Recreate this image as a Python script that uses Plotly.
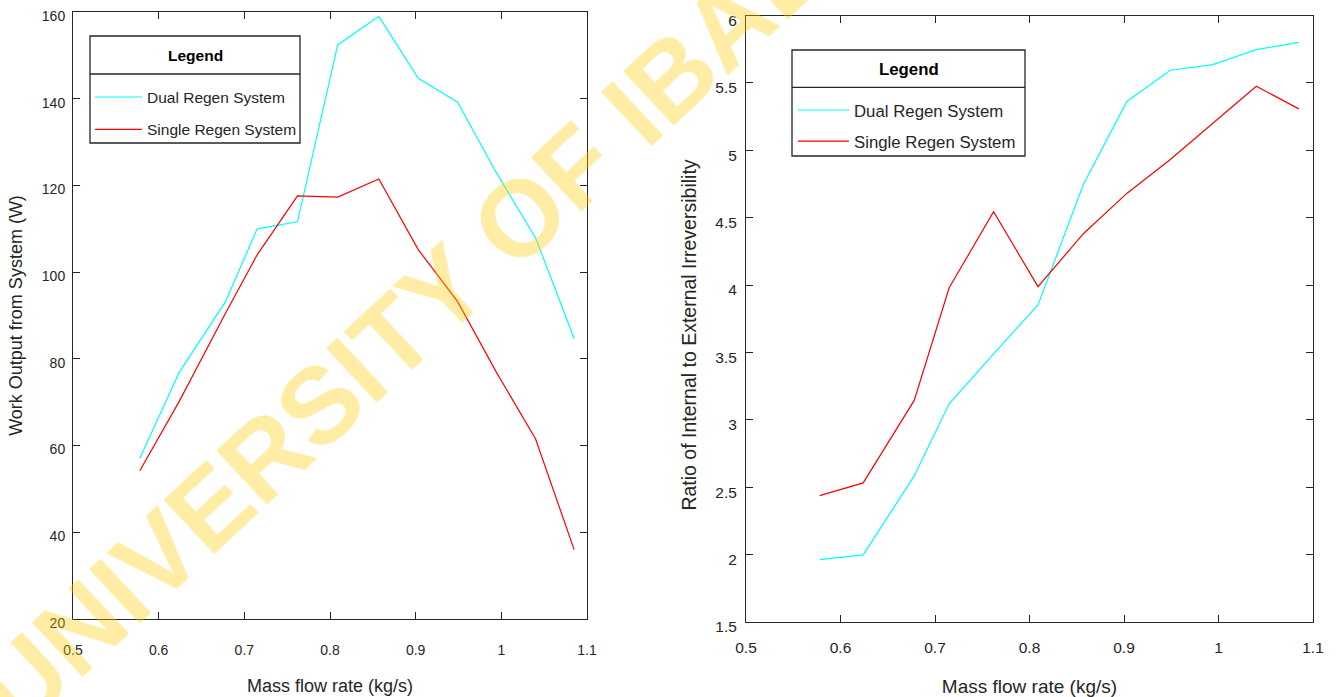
import plotly.graph_objects as go

# Mass flow rate samples (kg/s)
mass_flow = [0.578, 0.624, 0.678, 0.715, 0.762, 0.809, 0.857, 0.903, 0.949, 0.994, 1.040, 1.085]

# Work output from the system (W)
work_dual = [57.1, 76.9, 93.2, 110.0, 111.6, 152.4, 159.0, 144.7, 139.2, 123.0, 107.9, 84.7]
work_single = [54.2, 70.2, 90.5, 104.0, 117.6, 117.3, 121.5, 105.2, 93.2, 77.0, 61.5, 36.0]

# Ratio of internal to external irreversibility
ratio_dual = [1.963, 1.998, 2.584, 3.119, 3.49, 3.852, 4.746, 5.362, 5.594, 5.636, 5.747, 5.80]
ratio_single = [2.438, 2.532, 3.144, 3.980, 4.544, 3.988, 4.381, 4.680, 4.932, 5.20, 5.475, 5.307]

x_ticks = [0.5, 0.6, 0.7, 0.8, 0.9, 1.0, 1.1]
x_tick_text = ["0.5", "0.6", "0.7", "0.8", "0.9", "1", "1.1"]
work_ticks = [20, 40, 60, 80, 100, 120, 140, 160]
ratio_ticks = [1.5, 2, 2.5, 3, 3.5, 4, 4.5, 5, 5.5, 6]
ratio_tick_text = ["1.5", "2", "2.5", "3", "3.5", "4", "4.5", "5", "5.5", "6"]

series_names = ["Dual Regen System", "Single Regen System"]
series_colors = ["#00FFFF", "#FF0000"]

W, H = 1337, 697
FONT = "Liberation Sans, Arial, Helvetica, sans-serif"
INK = "#262626"

fig = go.Figure()

for i, (name, ys) in enumerate(zip(series_names, [work_dual, work_single])):
    fig.add_trace(go.Scatter(
        x=mass_flow, y=ys, mode="lines", name=name,
        line=dict(color=series_colors[i], width=1.2),
        xaxis="x", yaxis="y", legend="legend", legendgroup=f"a{i}",
    ))

for i, (name, ys) in enumerate(zip(series_names, [ratio_dual, ratio_single])):
    fig.add_trace(go.Scatter(
        x=mass_flow, y=ys, mode="lines", name=name,
        line=dict(color=series_colors[i], width=1.2),
        xaxis="x2", yaxis="y2", legend="legend2", legendgroup=f"b{i}",
    ))


def px_x(p):
    return p / W


def px_y(p):
    return 1 - p / H


axis_common = dict(
    showgrid=False, zeroline=False, showline=True, linecolor=INK, linewidth=1,
    mirror="ticks", ticks="inside", tickcolor=INK, ticklen=7, tickwidth=1,
    automargin=False,
)

fig.update_layout(
    width=W, height=H, autosize=False,
    margin=dict(l=0, r=0, t=0, b=0, autoexpand=False),
    paper_bgcolor="white", plot_bgcolor="white",
    font=dict(family=FONT, color=INK),
    xaxis=dict(
        axis_common, domain=[px_x(73), px_x(587)], range=[0.5, 1.1],
        tickvals=x_ticks, ticktext=x_tick_text, anchor="y",
        ticklabelstandoff=18, tickfont=dict(family=FONT, size=14, color=INK),
        title=dict(text="Mass flow rate (kg/s)", font=dict(family=FONT, size=18, color=INK), standoff=22),
    ),
    yaxis=dict(
        axis_common, domain=[px_y(619), px_y(12)], range=[20, 160],
        tickvals=work_ticks, anchor="x", ticklabelstandoff=4, ticklabelshift=4,
        ticklabeloverflow="allow",
        tickfont=dict(family=FONT, size=14, color=INK),
        title=dict(text="Work Output from System (W)", font=dict(family=FONT, size=18, color=INK), standoff=14),
    ),
    xaxis2=dict(
        axis_common, domain=[px_x(746), px_x(1313)], range=[0.5, 1.1],
        tickvals=x_ticks, ticktext=x_tick_text, anchor="y2",
        ticklabelstandoff=11, tickfont=dict(family=FONT, size=15.5, color=INK),
        title=dict(text="Mass flow rate (kg/s)", font=dict(family=FONT, size=19, color=INK), standoff=27),
    ),
    yaxis2=dict(
        axis_common, domain=[px_y(622), px_y(15.5)], range=[1.5, 6],
        tickvals=ratio_ticks, ticktext=ratio_tick_text, anchor="x2",
        ticklabelstandoff=5, ticklabelshift=5, ticklabeloverflow="allow",
        tickfont=dict(family=FONT, size=15.5, color=INK),
        title=dict(
            text="Ratio of Internal to External Irreversibility" + "&nbsp;" * 6,
            font=dict(family=FONT, size=19.5, color=INK), standoff=13,
        ),
    ),
    legend=dict(
        x=px_x(90), y=px_y(80.4), xanchor="left", yanchor="top",
        bgcolor="rgba(0,0,0,0)", borderwidth=0,
        font=dict(family=FONT, size=15.5, color=INK),
        traceorder="grouped", tracegroupgap=9.2, itemwidth=47,
    ),
    legend2=dict(
        x=px_x(793), y=px_y(92.6), xanchor="left", yanchor="top",
        bgcolor="rgba(0,0,0,0)", borderwidth=0,
        font=dict(family=FONT, size=16.8, color=INK),
        traceorder="grouped", tracegroupgap=6.2, itemwidth=51,
    ),
    showlegend=True,
)

# Legend frames with a heading row
legend_frames = [
    # (left, top, right, bottom, divider, title size)
    (90, 36, 300, 143, 74, 15.5),
    (792, 50, 1025, 156, 87.3, 16.8),
]
for left, top, right, bottom, divider, tsize in legend_frames:
    fig.add_shape(type="rect", xref="paper", yref="paper", layer="below",
                  x0=px_x(left), x1=px_x(right), y0=px_y(bottom), y1=px_y(top),
                  fillcolor="white", line=dict(color=INK, width=1.3))
    fig.add_shape(type="line", xref="paper", yref="paper",
                  x0=px_x(left), x1=px_x(right), y0=px_y(divider), y1=px_y(divider),
                  line=dict(color=INK, width=1.3))
    fig.add_annotation(
        text="<b>Legend</b>", xref="paper", yref="paper",
        x=px_x((left + right) / 2), y=px_y((top + divider) / 2 + 1),
        xanchor="center", yanchor="middle", showarrow=False,
        font=dict(family=FONT, size=tsize, color="black"),
    )

# Diagonal library watermark
fig.add_annotation(
    text="<b>UNIVERSITY OF IBADAN</b>", xref="paper", yref="paper",
    x=px_x(461), y=px_y(272), xanchor="center", yanchor="middle",
    textangle=-43, showarrow=False,
    font=dict(family=FONT, size=108, color="rgba(255,204,0,0.35)"),
)

fig.write_html("out.html")
